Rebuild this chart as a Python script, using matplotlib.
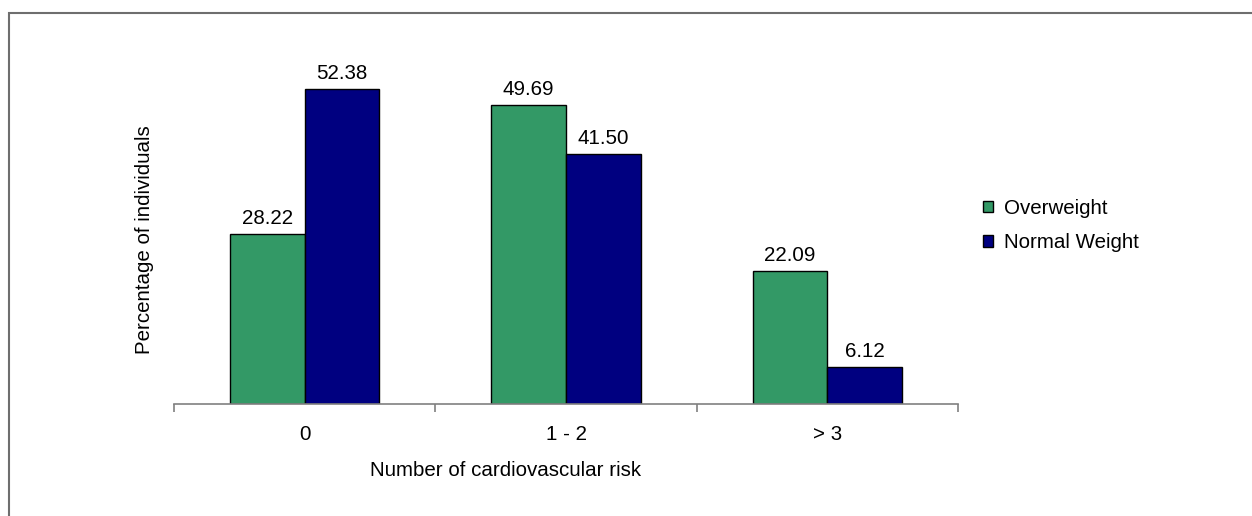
import matplotlib
matplotlib.use("Agg")
import matplotlib.pyplot as plt
import numpy as np
from matplotlib.patches import Rectangle

categories = ["0", "1 - 2", "> 3"]
overweight = [28.22, 49.69, 22.09]
normal_weight = [52.38, 41.50, 6.12]
series_names = ["Overweight", "Normal Weight"]

plt.rcParams['font.family'] = ['Liberation Sans', 'DejaVu Sans']
FS = 14.8

W, H = 1252, 516
fig = plt.figure(figsize=(W/100, H/100), dpi=100)
# outer border
fig.patches.append(Rectangle((9/W, -0.1), 1.2, (H-13)/H + 0.1, transform=fig.transFigure,
                             fill=False, edgecolor='#6e6e6e', linewidth=1.5))

ax = fig.add_axes([174/W, (H-404)/H, (958-174)/W, (404-43.2)/H])
x = np.arange(len(categories))
w = 0.2857
b1 = ax.bar(x - w/2, overweight, w, color='#339966', edgecolor='black', linewidth=1, label=series_names[0])
b2 = ax.bar(x + w/2, normal_weight, w, color='#000080', edgecolor='black', linewidth=1, label=series_names[1])

for bars, vals in ((b1, overweight), (b2, normal_weight)):
    for r, v in zip(bars, vals):
        ax.annotate(f"{v:.2f}", (r.get_x() + r.get_width()/2, v), xytext=(0, 6),
                    textcoords='offset pixels', ha='center', va='bottom', fontsize=FS)

ax.set_xlim(-0.5, 2.5)
ax.set_ylim(0, 60)
for s in ['top', 'right', 'left']:
    ax.spines[s].set_visible(False)
ax.spines['bottom'].set_color('#808080')
ax.spines['bottom'].set_linewidth(1.2)
ax.set_yticks([])
ax.set_xticks([-0.5, 0.5, 1.5, 2.5])
ax.set_xticklabels([])
ax.set_xticks(x, minor=True)
ax.set_xticklabels(categories, minor=True, fontsize=FS)
ax.tick_params(axis='x', which='major', length=6, color='#808080', width=1.2)
ax.tick_params(axis='x', which='minor', length=0, pad=15)

fig.text(506/W, (H-470)/H, "Number of cardiovascular risk", fontsize=FS, ha='center', va='center')
fig.text(145/W, (H-240)/H, "Percentage of individuals", fontsize=FS, ha='center', va='center',
         rotation=90)

fs_px = FS * 100 / 72
leg = ax.legend(loc='center left', bbox_to_anchor=(983/W, (H-225.5)/H), bbox_transform=fig.transFigure,
                frameon=False, fontsize=FS, borderpad=0, borderaxespad=0,
                handlelength=10/fs_px, handleheight=10/fs_px, handletextpad=11/fs_px,
                labelspacing=0.75)

fig.savefig("out.png", dpi=100)
